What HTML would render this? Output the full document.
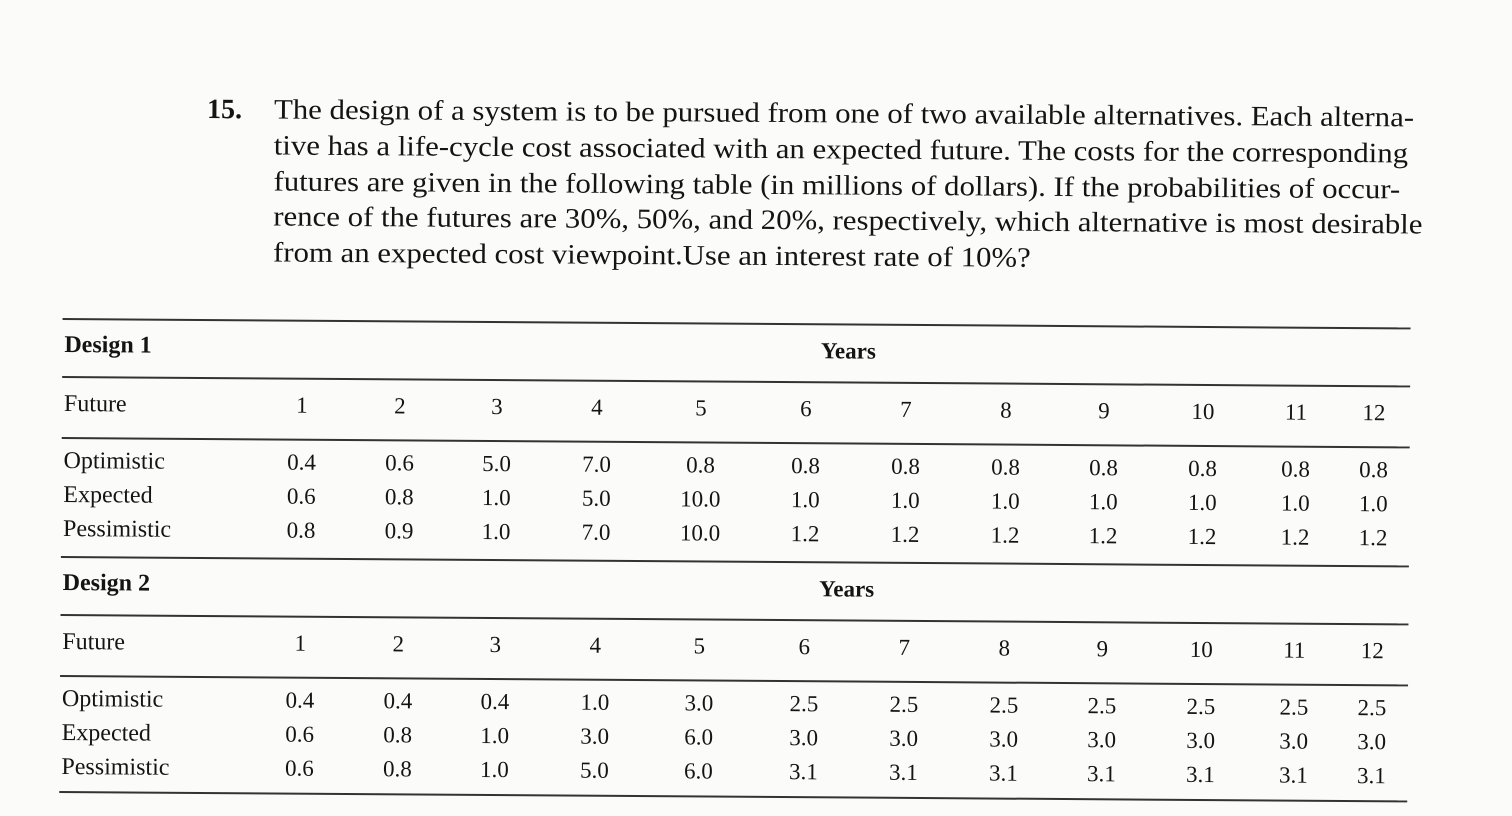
<!DOCTYPE html>
<html><head><meta charset="utf-8">
<style>
html,body{margin:0;padding:0;background:#fbfbfa;}
#page{position:relative;width:1512px;height:816px;overflow:hidden;font-family:"Liberation Serif",serif;color:#141414;}
#rot{position:absolute;left:0;top:0;width:1512px;height:816px;transform-origin:60px 400px;transform:rotate(0.4deg);}
.t{position:absolute;white-space:nowrap;}
.p{font-size:28px;left:272px;transform-origin:0 0;transform:scaleX(1.1);}
.rule{position:absolute;left:62px;width:1348px;background:#333;}
.c{position:absolute;font-size:23px;transform:translateX(-50%);}
.lbl{position:absolute;font-size:24px;left:64px;}
</style></head>
<body>
<div id="page">
<div id="rot">
<div class="t" style="left:205px;top:93px;font-size:28px;font-weight:bold">15.</div>
<div class="t p" style="top:93px">The design of a system is to be pursued from one of two available alternatives. Each alterna-</div>
<div class="t p" style="top:129px">tive has a life-cycle cost associated with an expected future. The costs for the corresponding</div>
<div class="t p" style="top:165px">futures are given in the following table (in millions of dollars). If the probabilities of occur-</div>
<div class="t p" style="top:200px">rence of the futures are 30%, 50%, and 20%, respectively, which alternative is most desirable</div>
<div class="t p" style="top:236px">from an expected cost viewpoint.Use an interest rate of 10%?</div>
<div id="table"></div>
</div></div>
<script>
const years=[1,2,3,4,5,6,7,8,9,10,11,12];
const futures=["Optimistic","Expected","Pessimistic"];
const d1Opt=["0.4","0.6","5.0","7.0","0.8","0.8","0.8","0.8","0.8","0.8","0.8","0.8"];
const d1Exp=["0.6","0.8","1.0","5.0","10.0","1.0","1.0","1.0","1.0","1.0","1.0","1.0"];
const d1Pes=["0.8","0.9","1.0","7.0","10.0","1.2","1.2","1.2","1.2","1.2","1.2","1.2"];
const d2Opt=["0.4","0.4","0.4","1.0","3.0","2.5","2.5","2.5","2.5","2.5","2.5","2.5"];
const d2Exp=["0.6","0.8","1.0","3.0","6.0","3.0","3.0","3.0","3.0","3.0","3.0","3.0"];
const d2Pes=["0.6","0.8","1.0","5.0","6.0","3.1","3.1","3.1","3.1","3.1","3.1","3.1"];
const colX=[302,400,497,597,701,806,906,1006,1104,1203,1296,1374];
const tbl=document.getElementById('table');
function add(cls,txt,x,y,bold){
  const e=document.createElement('div');
  e.className=cls;e.textContent=txt;
  if(x!==null)e.style.left=x+'px';
  e.style.top=y+'px';
  if(bold)e.style.fontWeight='bold';
  tbl.appendChild(e);return e;
}
function rule(y,h){
  const r=document.createElement('div');r.className='rule';
  r.style.top=y+'px';r.style.height=h+'px';
  
  
  tbl.appendChild(r);
}
function design(name,top,rows){
  rule(top,2);
  let e=add('lbl',name,null,top+14,true);
  
  
  e=add('c','Years',848,top+15,true);
  
  
  rule(top+58,1.5);
  e=add('lbl','Future',null,top+73,false);
  
  
  years.forEach((yr,i)=>{
    const c=add('c',String(yr),colX[i],top+73,false);
    
    
  });
  rule(top+119,1.5);
  rows.forEach((vals,r)=>{
    const y=top+130+r*34;
    const l=add('lbl',futures[r],null,y,false);
    
    
    vals.forEach((v,i)=>{
      const c=add('c',v,colX[i],y,false);
      
      
    });
  });
}
design('Design 1',318,[d1Opt,d1Exp,d1Pes]);
design('Design 2',556,[d2Opt,d2Exp,d2Pes]);
rule(791,2);
</script>
</body></html>
